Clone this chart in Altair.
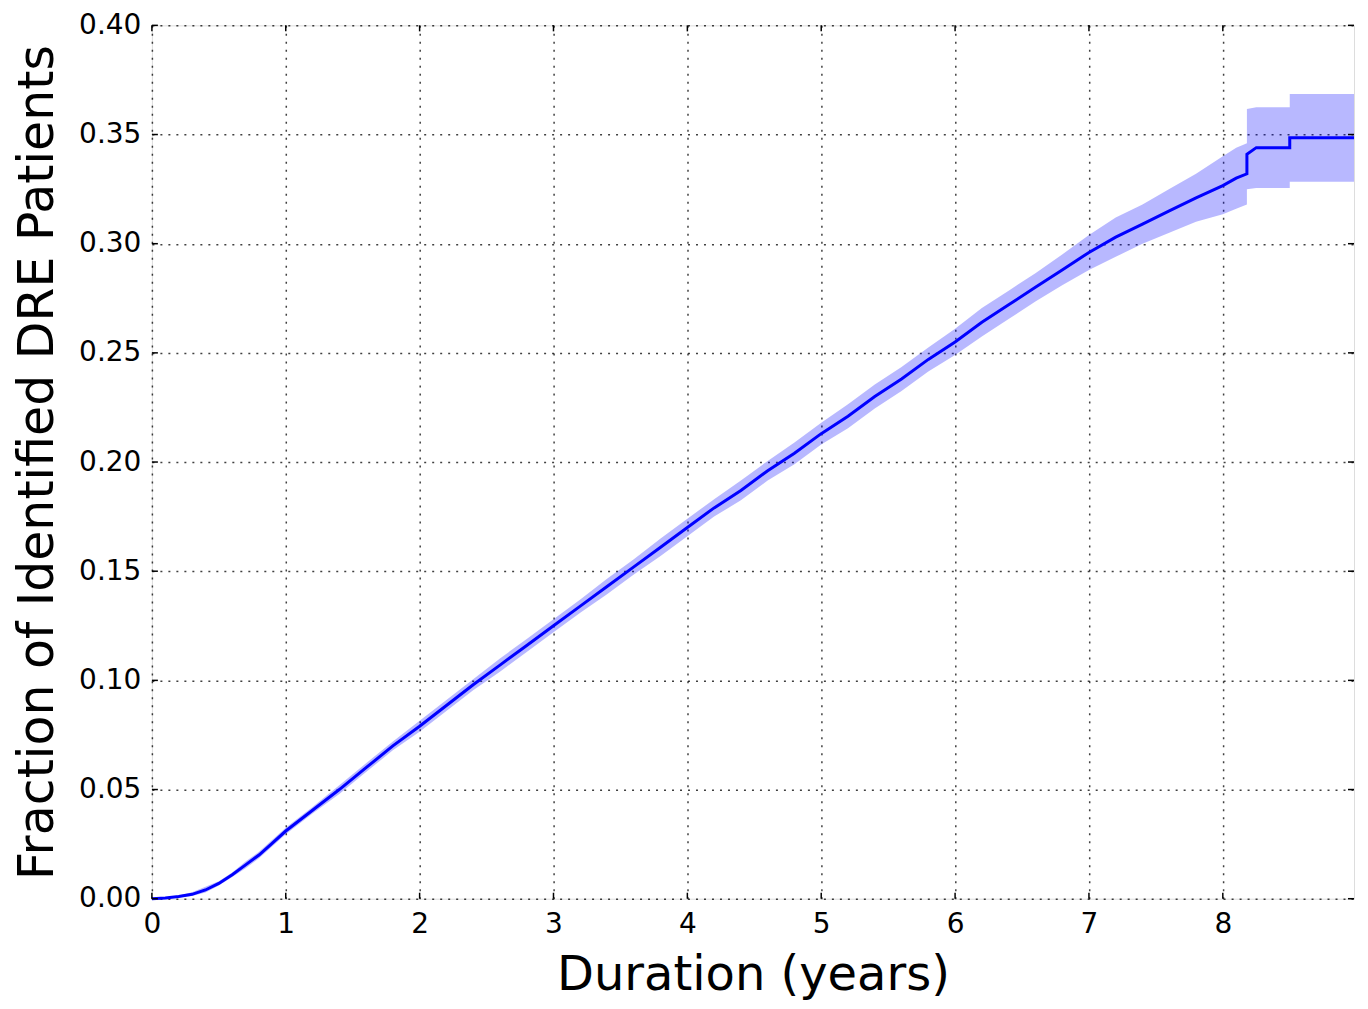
import altair as alt
import pandas as pd

# Duration (years) at which the curve was read
dur = [0.0, 0.1, 0.2, 0.3, 0.4, 0.5, 0.6, 0.7, 0.8, 0.9, 1.0,
       1.2, 1.4, 1.6, 1.8, 2.0, 2.2, 2.4, 2.6, 2.8, 3.0,
       3.2, 3.4, 3.6, 3.8, 4.0, 4.2, 4.4, 4.6, 4.8, 5.0,
       5.2, 5.4, 5.6, 5.8, 6.0, 6.2, 6.4, 6.6, 6.8, 7.0,
       7.2, 7.4, 7.6, 7.8, 8.0,
       8.1, 8.18, 8.18, 8.25, 8.5, 8.5, 8.98]

# Fraction of identified DRE patients (estimate)
frac = [0.000, 0.0003, 0.001, 0.002, 0.004, 0.007, 0.011, 0.0155, 0.020, 0.0255, 0.031,
        0.0405, 0.050, 0.060, 0.070, 0.079, 0.0885, 0.098, 0.107, 0.116, 0.125,
        0.134, 0.143, 0.152, 0.161, 0.170, 0.179, 0.187, 0.196, 0.204, 0.213,
        0.221, 0.230, 0.238, 0.247, 0.255, 0.264, 0.272, 0.280, 0.288, 0.296,
        0.303, 0.309, 0.315, 0.321, 0.3266,
        0.330, 0.332, 0.341, 0.344, 0.344, 0.3485, 0.3485]

# Confidence band upper / lower
upper = [0.000, 0.0005, 0.0015, 0.003, 0.0055, 0.008, 0.012, 0.017, 0.0215, 0.027, 0.0325,
         0.042, 0.052, 0.062, 0.072, 0.0815, 0.091, 0.1005, 0.110, 0.119, 0.128,
         0.137, 0.1465, 0.1555, 0.165, 0.174, 0.183, 0.1915, 0.2005, 0.209, 0.218,
         0.2265, 0.2355, 0.2435, 0.2525, 0.261, 0.2705, 0.2785, 0.2865, 0.295, 0.304,
         0.312, 0.318, 0.325, 0.332, 0.340,
         0.344, 0.346, 0.3617, 0.3625, 0.3625, 0.3686, 0.3686]

lower = [0.000, 0.0001, 0.0005, 0.0012, 0.0028, 0.006, 0.010, 0.014, 0.0185, 0.024, 0.0295,
         0.039, 0.048, 0.058, 0.068, 0.0765, 0.086, 0.0955, 0.104, 0.113, 0.122,
         0.131, 0.1395, 0.1485, 0.157, 0.166, 0.175, 0.1825, 0.1915, 0.199, 0.208,
         0.2155, 0.2245, 0.2325, 0.2415, 0.249, 0.2575, 0.2655, 0.2735, 0.281, 0.288,
         0.294, 0.300, 0.305, 0.310, 0.3135,
         0.316, 0.318, 0.3249, 0.3255, 0.3255, 0.3284, 0.3284]

x_ticks = [0, 1, 2, 3, 4, 5, 6, 7, 8]
y_ticks = [0.00, 0.05, 0.10, 0.15, 0.20, 0.25, 0.30, 0.35, 0.40]

W, H = 1203, 874

df = pd.DataFrame({"idx": list(range(len(dur))), "dur": dur, "frac": frac,
                   "upper": upper, "lower": lower})
xt = pd.DataFrame({"v": x_ticks})
yt = pd.DataFrame({"v": y_ticks})

xscale = alt.Scale(domain=[0, 8.98], nice=False, zero=False)
yscale = alt.Scale(domain=[0, 0.40], nice=False)

FONT = "DejaVu Sans"

xaxis = alt.Axis(values=x_ticks, format="d", title="Duration (years)",
                 grid=True, gridDash=[2, 6], gridColor="#000000", gridOpacity=0.75,
                 gridWidth=1.5, domain=False, ticks=False, labelFlush=False,
                 labelFont=FONT, labelFontSize=28, labelColor="#000000", labelPadding=12,
                 titleFont=FONT, titleFontSize=48, titleFontWeight="normal",
                 titleColor="#000000", titlePadding=13)
yaxis = alt.Axis(values=y_ticks, format=".2f", title="Fraction of Identified DRE Patients",
                 grid=True, gridDash=[2, 6], gridColor="#000000", gridOpacity=0.75,
                 gridWidth=1.5, domain=False, ticks=False, labelFlush=False,
                 labelFont=FONT, labelFontSize=28, labelColor="#000000", labelPadding=11,
                 titleFont=FONT, titleFontSize=49, titleFontWeight="normal",
                 titleColor="#000000", titlePadding=16)

band = alt.Chart(df).mark_area(color="#0000ff", opacity=0.28).encode(
    x=alt.X("dur:Q", scale=xscale, axis=xaxis),
    y=alt.Y("lower:Q", scale=yscale, axis=yaxis),
    y2="upper:Q",
)

line = alt.Chart(df).mark_line(color="#0000ff", strokeWidth=3).encode(
    x=alt.X("dur:Q", scale=xscale),
    y=alt.Y("frac:Q", scale=yscale),
    order="idx:Q",
)

tk = 6
xb = alt.Chart(xt).mark_rule(color="#000000", strokeWidth=1.5).encode(
    x=alt.X("v:Q", scale=xscale), y=alt.value(H), y2=alt.value(H - tk))
xtop = alt.Chart(xt).mark_rule(color="#000000", strokeWidth=1.5).encode(
    x=alt.X("v:Q", scale=xscale), y=alt.value(0), y2=alt.value(tk))
yl = alt.Chart(yt).mark_rule(color="#000000", strokeWidth=1.5).encode(
    y=alt.Y("v:Q", scale=yscale), x=alt.value(0), x2=alt.value(tk))
yr = alt.Chart(yt).mark_rule(color="#000000", strokeWidth=1.5).encode(
    y=alt.Y("v:Q", scale=yscale), x=alt.value(W), x2=alt.value(W - tk))

chart = alt.layer(band, line, xb, xtop, yl, yr).properties(
    width=W, height=H,
    autosize=alt.AutoSizeParams(type="none"),
    padding={"left": 144, "top": 17, "right": 6, "bottom": 108},
).configure_view(stroke="#000000", strokeWidth=2).configure(background="white")

chart.save("out.html", embed_options={"renderer": "svg", "actions": False})
